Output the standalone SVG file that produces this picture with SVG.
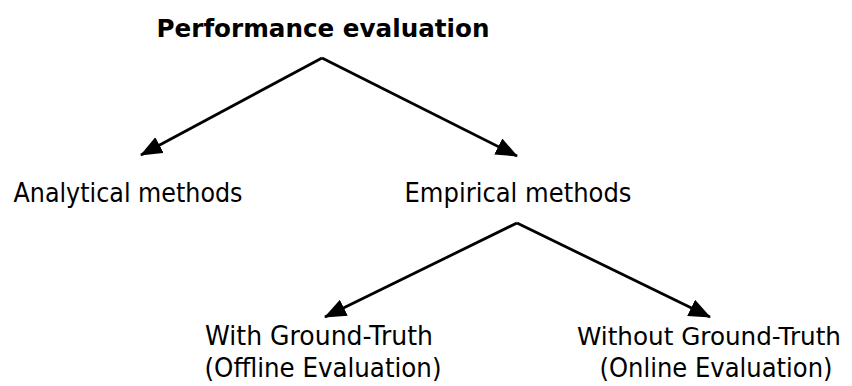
<svg xmlns="http://www.w3.org/2000/svg" width="852" height="386" viewBox="0 0 852 386">
  <style>
    .lbl { font-family: "DejaVu Sans", Tahoma, Verdana, sans-serif; font-size: 26px; fill: #000; text-anchor: middle; }
    .sm { font-size: 25px; }
    .title { font-family: "DejaVu Sans", Verdana, sans-serif; font-size: 25px; font-weight: bold; fill: #000; text-anchor: middle; }
    .conn { stroke: #000; stroke-width: 2.8; fill: none; marker-end: url(#arrow); }
  </style>
  <defs>
    <marker id="arrow" markerUnits="userSpaceOnUse" markerWidth="24" markerHeight="20" refX="21" refY="9" orient="auto">
      <path d="M0,0 L22,9 L0,18 z" fill="#000"/>
    </marker>
  </defs>
  <rect width="852" height="386" fill="#fff"/>
  <g id="connectors">
    <line class="conn" x1="322" y1="58" x2="141" y2="155"/>
    <line class="conn" x1="322" y1="58" x2="517" y2="156"/>
    <line class="conn" x1="517" y1="223" x2="325" y2="317"/>
    <line class="conn" x1="517" y1="223" x2="710" y2="317"/>
  </g>
  <g id="performance-evaluation">
    <text class="title" x="323" y="37" textLength="333" lengthAdjust="spacingAndGlyphs">Performance evaluation</text>
  </g>
  <g id="analytical-methods">
    <text class="lbl" x="128" y="202" textLength="229" lengthAdjust="spacingAndGlyphs">Analytical methods</text>
  </g>
  <g id="empirical-methods">
    <text class="lbl" x="518" y="202" textLength="227" lengthAdjust="spacingAndGlyphs">Empirical methods</text>
  </g>
  <g id="with-ground-truth">
    <text class="lbl" x="319" y="345" textLength="228" lengthAdjust="spacingAndGlyphs">With Ground-Truth</text>
    <text class="lbl" x="323" y="377" textLength="237" lengthAdjust="spacingAndGlyphs">(Offline Evaluation)</text>
  </g>
  <g id="without-ground-truth">
    <text class="lbl sm" x="709" y="345" textLength="264" lengthAdjust="spacingAndGlyphs">Without Ground-Truth</text>
    <text class="lbl" x="716" y="377" textLength="233" lengthAdjust="spacingAndGlyphs">(Online Evaluation)</text>
  </g>
</svg>
